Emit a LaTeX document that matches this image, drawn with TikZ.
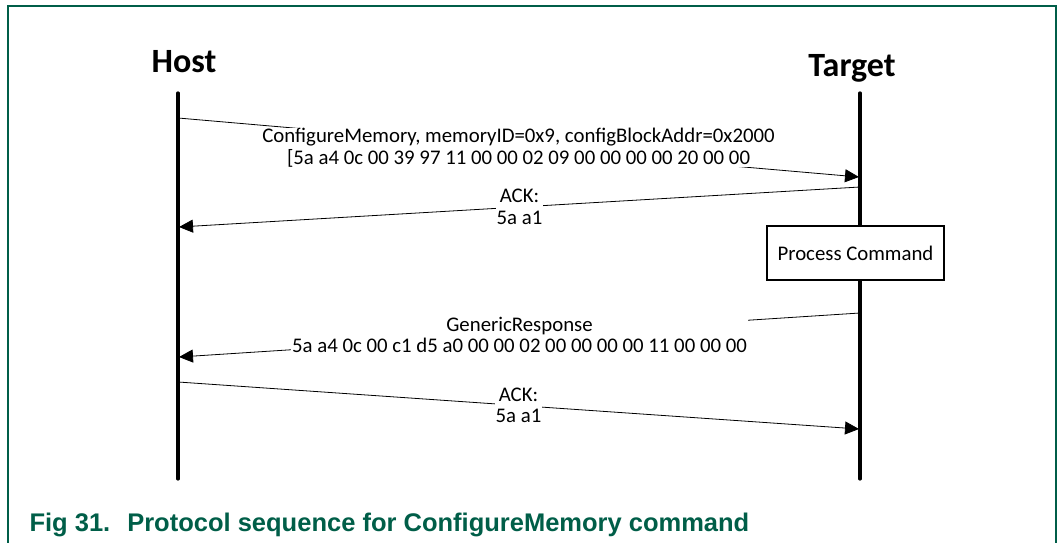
\documentclass[tikz,border=0pt]{standalone}
\usepackage{fontspec}
\setmainfont{Carlito}
\newfontfamily\captionfont{Liberation Sans}
\usetikzlibrary{arrows.meta}

\begin{document}
\begin{tikzpicture}[x=1bp, y=-1bp,
    lifeline/.style={line width=3.2bp, line cap=round},
    msg/.style={line width=0.8bp, -{Triangle[length=14bp, width=13bp]}},
    lbl/.style={fill=white, inner xsep=1bp, inner ysep=0bp, align=center,
        font=\fontsize{20.8bp}{21.5bp}\selectfont},
    actor/.style={anchor=base, font=\fontsize{34bp}{40bp}\selectfont\bfseries},
    procbox/.style={draw, line width=1.5bp, fill=white, minimum width=177bp,
        minimum height=54bp, font=\fontsize{20.8bp}{24bp}\selectfont},
    figcaption/.style={anchor=base west, text=nxpgreen,
        font=\fontsize{25.5bp}{30bp}\selectfont\captionfont\bfseries}]
    % Define colors
    \definecolor{nxpgreen}{RGB}{0, 94, 72}

    % Page and frame
    \useasboundingbox (0,0) rectangle (1064,543);
    \draw[nxpgreen, line width=1.5bp] (8,543) -- (8,6) -- (1056,6) -- (1056,543);

    % Actors
    \node[actor] (host) at (184,73) {Host};
    \node[actor] (target) at (852,77) {Target};

    % Lifelines
    \foreach \name/\x in {host/178, target/860} {
        \coordinate (\name top) at (\x,93);
        \coordinate (\name bot) at (\x,479);
        \draw[lifeline] (\name top) -- (\name bot);
    }

    % Message end points
    \coordinate (h1) at (178,118);
    \coordinate (t1) at (859,177);
    \coordinate (t2) at (860,187);
    \coordinate (h2) at (179,227);
    \coordinate (t3) at (860,313);
    \coordinate (h3) at (179,357);
    \coordinate (h4) at (178,382);
    \coordinate (t4) at (859,429);

    % Target processing
    \node[procbox] (proc) at (855.5,253) {Process Command};

    % Messages
    \draw[msg] (h1) -- node[lbl] {ConfigureMemory, memoryID=0x9, configBlockAddr=0x2000\\
        {[}5a a4 0c 00 39 97 11 00 00 02 09 00 00 00 00 20 00 00} (t1);
    \draw[msg] (t2) -- node[lbl] {ACK:\\5a a1} (h2);
    \draw[msg] (t3) -- node[lbl] {GenericResponse\\
        5a a4 0c 00 c1 d5 a0 00 00 02 00 00 00 00 11 00 00 00} (h3);
    \draw[msg] (h4) -- node[lbl] {ACK:\\5a a1} (t4);

    % Caption
    \node[figcaption] (fig) at (26,531) {Fig 31.\hspace{17bp}Protocol sequence for ConfigureMemory command};
\end{tikzpicture}
\end{document}
